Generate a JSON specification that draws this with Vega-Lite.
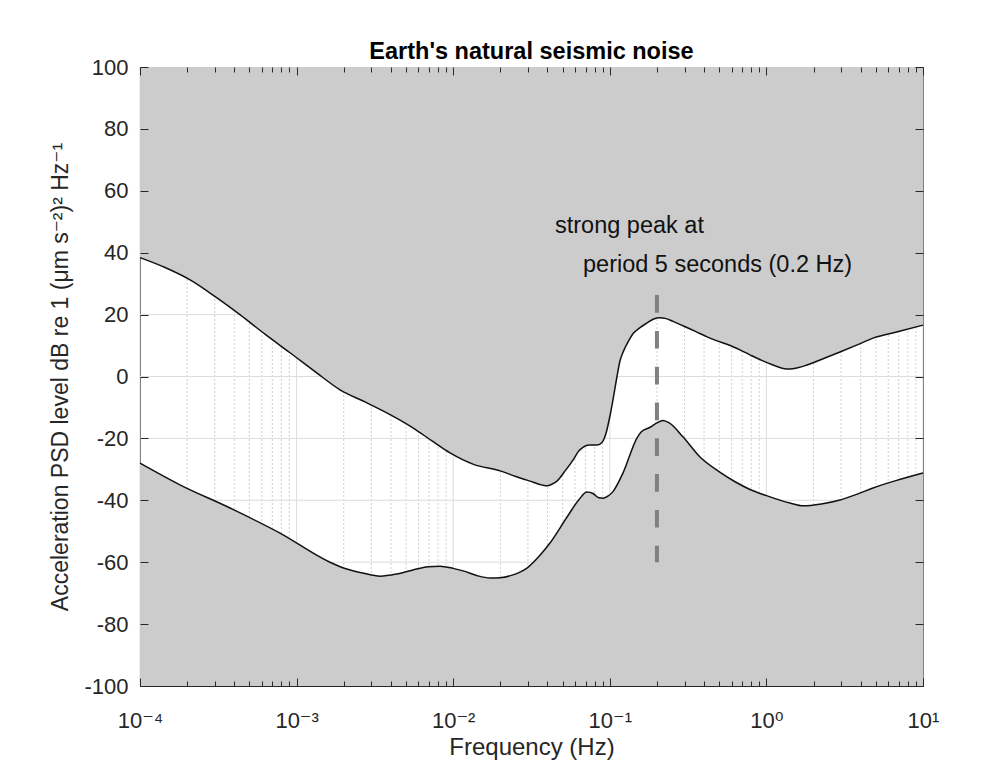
{
  "$schema": "https://vega.github.io/schema/vega-lite/v6.json",
  "autosize": {"type": "none"},
  "width": 783,
  "height": 619,
  "padding": {"left": 140, "top": 67, "right": 83, "bottom": 78},
  "background": "white",
  "title": {"text": "Earth's natural seismic noise", "fontSize": 23.5, "fontWeight": "bold", "font": "Liberation Sans", "color": "#000000", "offset": -7, "anchor": "middle"},
  "config": {
    "font": "Liberation Sans",
    "view": {"stroke": "#262626", "strokeWidth": 1},
    "axis": {"labelFont": "Liberation Sans, DejaVu Sans", "titleFont": "Liberation Sans, DejaVu Sans", "labelColor": "#262626", "titleColor": "#262626", "tickColor": "#262626", "tickWidth": 1, "domain": false, "grid": false, "zindex": 1, "labelOverlap": false, "labelFlush": false, "labelBound": false, "minExtent": 0}
  },
  "datasets": {
    "vgrid": [
      {"f": 0.0001, "kind": "major"}, {"f": 0.0002, "kind": "minor"}, {"f": 0.0003, "kind": "minor"}, {"f": 0.0004, "kind": "minor"}, {"f": 0.0005, "kind": "minor"}, {"f": 0.0006, "kind": "minor"}, {"f": 0.0007, "kind": "minor"}, {"f": 0.0008, "kind": "minor"}, {"f": 0.0009, "kind": "minor"},
      {"f": 0.001, "kind": "major"}, {"f": 0.002, "kind": "minor"}, {"f": 0.003, "kind": "minor"}, {"f": 0.004, "kind": "minor"}, {"f": 0.005, "kind": "minor"}, {"f": 0.006, "kind": "minor"}, {"f": 0.007, "kind": "minor"}, {"f": 0.008, "kind": "minor"}, {"f": 0.009, "kind": "minor"},
      {"f": 0.01, "kind": "major"}, {"f": 0.02, "kind": "minor"}, {"f": 0.03, "kind": "minor"}, {"f": 0.04, "kind": "minor"}, {"f": 0.05, "kind": "minor"}, {"f": 0.06, "kind": "minor"}, {"f": 0.07, "kind": "minor"}, {"f": 0.08, "kind": "minor"}, {"f": 0.09, "kind": "minor"},
      {"f": 0.1, "kind": "major"}, {"f": 0.2, "kind": "minor"}, {"f": 0.3, "kind": "minor"}, {"f": 0.4, "kind": "minor"}, {"f": 0.5, "kind": "minor"}, {"f": 0.6, "kind": "minor"}, {"f": 0.7, "kind": "minor"}, {"f": 0.8, "kind": "minor"}, {"f": 0.9, "kind": "minor"},
      {"f": 1, "kind": "major"}, {"f": 2, "kind": "minor"}, {"f": 3, "kind": "minor"}, {"f": 4, "kind": "minor"}, {"f": 5, "kind": "minor"}, {"f": 6, "kind": "minor"}, {"f": 7, "kind": "minor"}, {"f": 8, "kind": "minor"}, {"f": 9, "kind": "minor"},
      {"f": 10, "kind": "major"}
    ],
    "hgrid": [{"db": -80}, {"db": -60}, {"db": -40}, {"db": -20}, {"db": 0}, {"db": 20}, {"db": 40}, {"db": 60}, {"db": 80}],
    "upper": [
      {"f": 0.0001, "db": 38.4}, {"f": 0.00014454, "db": 35.2}, {"f": 0.00020893, "db": 31.2}, {"f": 0.000302, "db": 25.8}, {"f": 0.00043652, "db": 19.9}, {"f": 0.00063096, "db": 13.6}, {"f": 0.00091201, "db": 7.6}, {"f": 0.0013183, "db": 1.5}, {"f": 0.0019055, "db": -4.4}, {"f": 0.0027542, "db": -8.3}, {"f": 0.0039811, "db": -12.4}, {"f": 0.0054954, "db": -16.5}, {"f": 0.0074131, "db": -21}, {"f": 0.0095499, "db": -24.7}, {"f": 0.01349, "db": -28.4}, {"f": 0.019953, "db": -30.5}, {"f": 0.025119, "db": -32.3}, {"f": 0.030903, "db": -33.8}, {"f": 0.037154, "db": -35.1}, {"f": 0.039811, "db": -35.3}, {"f": 0.042658, "db": -34.8}, {"f": 0.046026, "db": -33.8}, {"f": 0.051286, "db": -30.8}, {"f": 0.05821, "db": -27.0}, {"f": 0.063096, "db": -24.2}, {"f": 0.067608, "db": -22.8}, {"f": 0.074131, "db": -22.1}, {"f": 0.083176, "db": -22.1}, {"f": 0.089125, "db": -21.3}, {"f": 0.094406, "db": -18.5}, {"f": 0.1, "db": -13}, {"f": 0.10471, "db": -7.6}, {"f": 0.11117, "db": 0}, {"f": 0.11614, "db": 5}, {"f": 0.12134, "db": 7.8}, {"f": 0.13183, "db": 11.5}, {"f": 0.1406, "db": 13.8}, {"f": 0.15596, "db": 15.8}, {"f": 0.17298, "db": 17.3}, {"f": 0.19055, "db": 18.6}, {"f": 0.20893, "db": 19}, {"f": 0.22909, "db": 18.7}, {"f": 0.25351, "db": 17.8}, {"f": 0.29309, "db": 16.4}, {"f": 0.35481, "db": 14.5}, {"f": 0.41783, "db": 12.8}, {"f": 0.48417, "db": 11.5}, {"f": 0.57544, "db": 10.2}, {"f": 0.67764, "db": 8.6}, {"f": 0.78524, "db": 7}, {"f": 0.93325, "db": 5.2}, {"f": 1.1015, "db": 3.7}, {"f": 1.2589, "db": 2.7}, {"f": 1.4158, "db": 2.4}, {"f": 1.5849, "db": 2.8}, {"f": 1.8155, "db": 3.7}, {"f": 2.3442, "db": 5.9}, {"f": 2.9512, "db": 7.9}, {"f": 3.8019, "db": 10.2}, {"f": 4.7973, "db": 12.4}, {"f": 7.0795, "db": 14.6}, {"f": 10, "db": 16.6}
    ],
    "lower": [
      {"f": 0.0001, "db": -28}, {"f": 0.00017989, "db": -35}, {"f": 0.00037584, "db": -42.5}, {"f": 0.00078343, "db": -50.6}, {"f": 0.0016331, "db": -60}, {"f": 0.0020893, "db": -62.2}, {"f": 0.0026546, "db": -63.5}, {"f": 0.0034119, "db": -64.5}, {"f": 0.0043652, "db": -63.8}, {"f": 0.0055335, "db": -62.5}, {"f": 0.0069183, "db": -61.5}, {"f": 0.0082414, "db": -61.3}, {"f": 0.01, "db": -62}, {"f": 0.011561, "db": -62.8}, {"f": 0.014125, "db": -64.3}, {"f": 0.017179, "db": -65.1}, {"f": 0.019907, "db": -65}, {"f": 0.024099, "db": -64.1}, {"f": 0.02958, "db": -61.9}, {"f": 0.035481, "db": -58}, {"f": 0.041495, "db": -53.8}, {"f": 0.053333, "db": -45.4}, {"f": 0.063096, "db": -40}, {"f": 0.07145, "db": -37.3}, {"f": 0.078163, "db": -37.8}, {"f": 0.085114, "db": -39.2}, {"f": 0.090573, "db": -39.3}, {"f": 0.097724, "db": -38.6}, {"f": 0.10471, "db": -37.2}, {"f": 0.12134, "db": -31.2}, {"f": 0.14928, "db": -19.8}, {"f": 0.15849, "db": -17.9}, {"f": 0.18072, "db": -16.4}, {"f": 0.19953, "db": -15}, {"f": 0.21878, "db": -14.2}, {"f": 0.23988, "db": -15}, {"f": 0.29309, "db": -19.5}, {"f": 0.3767, "db": -26}, {"f": 0.50119, "db": -30.8}, {"f": 0.63096, "db": -34}, {"f": 0.78524, "db": -36.5}, {"f": 1, "db": -38.5}, {"f": 1.4158, "db": -40.9}, {"f": 1.714, "db": -41.8}, {"f": 2.2387, "db": -41.2}, {"f": 2.9512, "db": -39.9}, {"f": 3.8019, "db": -38}, {"f": 4.7973, "db": -36}, {"f": 7.0795, "db": -33.3}, {"f": 10, "db": -31.2}
    ]
  },
  "layer": [
    {
      "data": {"name": "vgrid"},
      "transform": [{"filter": "datum.kind == 'minor'"}],
      "mark": {"type": "rule", "color": "#cfcfcf", "strokeWidth": 1, "strokeDash": [2, 2]},
      "encoding": {
        "x": {"field": "f", "type": "quantitative", "scale": {"type": "log", "domain": [0.0001, 10], "nice": false}, "axis": null}
      }
    },
    {
      "data": {"name": "vgrid"},
      "transform": [{"filter": "datum.kind == 'major'"}],
      "mark": {"type": "rule", "color": "#dcdcdc", "strokeWidth": 1},
      "encoding": {
        "x": {"field": "f", "type": "quantitative", "scale": {"type": "log", "domain": [0.0001, 10], "nice": false}, "axis": null}
      }
    },
    {
      "data": {"name": "hgrid"},
      "mark": {"type": "rule", "color": "#dcdcdc", "strokeWidth": 1},
      "encoding": {
        "y": {"field": "db", "type": "quantitative", "scale": {"domain": [-100, 100], "nice": false, "zero": false}, "axis": null}
      }
    },
    {
      "data": {"name": "upper"},
      "mark": {"type": "area", "color": "#cccccc", "opacity": 1, "interpolate": "monotone"},
      "encoding": {
        "x": {"field": "f", "type": "quantitative", "scale": {"type": "log", "domain": [0.0001, 10], "nice": false}, "axis": null},
        "y": {"field": "db", "type": "quantitative", "scale": {"domain": [-100, 100], "nice": false, "zero": false}, "axis": null},
        "y2": {"datum": 100}
      }
    },
    {
      "data": {"name": "lower"},
      "mark": {"type": "area", "color": "#cccccc", "opacity": 1, "interpolate": "monotone"},
      "encoding": {
        "x": {"field": "f", "type": "quantitative", "scale": {"type": "log", "domain": [0.0001, 10], "nice": false}, "axis": null},
        "y": {"field": "db", "type": "quantitative", "scale": {"domain": [-100, 100], "nice": false, "zero": false}, "axis": null},
        "y2": {"datum": -100}
      }
    },
    {
      "data": {"name": "upper"},
      "mark": {"type": "line", "color": "#111111", "strokeWidth": 1.5, "interpolate": "monotone"},
      "encoding": {
        "x": {"field": "f", "type": "quantitative", "scale": {"type": "log", "domain": [0.0001, 10], "nice": false},
          "axis": {
            "orient": "bottom",
            "zindex": 1,
            "values": [0.0001, 0.0002, 0.0003, 0.0004, 0.0005, 0.0006, 0.0007, 0.0008, 0.0009, 0.001, 0.002, 0.003, 0.004, 0.005, 0.006, 0.007, 0.008, 0.009, 0.01, 0.02, 0.03, 0.04, 0.05, 0.06, 0.07, 0.08, 0.09, 0.1, 0.2, 0.3, 0.4, 0.5, 0.6, 0.7, 0.8, 0.9, 1, 2, 3, 4, 5, 6, 7, 8, 9, 10],
            "labelExpr": "datum.value == 0.0001 ? '10⁻⁴' : datum.value == 0.001 ? '10⁻³' : datum.value == 0.01 ? '10⁻²' : datum.value == 0.1 ? '10⁻¹' : datum.value == 1 ? '10⁰' : datum.value == 10 ? '10¹' : ''",
            "tickSize": {"condition": {"test": "abs(log(datum.value)/LN10 - round(log(datum.value)/LN10)) < 0.001", "value": -8}, "value": -5},
            "labelPadding": 32,
            "labelFontSize": 22,
            "labelAngle": 0,
            "title": "Frequency (Hz)",
            "titleFontSize": 24,
            "titleFontWeight": "normal",
            "titlePadding": 1
          }
        },
        "y": {"field": "db", "type": "quantitative", "scale": {"domain": [-100, 100], "nice": false, "zero": false},
          "axis": {
            "orient": "left",
            "zindex": 1,
            "values": [-100, -80, -60, -40, -20, 0, 20, 40, 60, 80, 100],
            "labelExpr": "'' + datum.value",
            "tickSize": -8,
            "labelPadding": 20,
            "labelFontSize": 22,
            "title": "Acceleration PSD level dB re 1 (μm s⁻²)² Hz⁻¹",
            "titleFontSize": 23,
            "titleFontWeight": "normal",
            "titlePadding": 11
          }
        }
      }
    },
    {
      "data": {"name": "lower"},
      "mark": {"type": "line", "color": "#111111", "strokeWidth": 1.5, "interpolate": "monotone"},
      "encoding": {
        "x": {"field": "f", "type": "quantitative", "scale": {"type": "log", "domain": [0.0001, 10], "nice": false},
          "axis": {
            "orient": "top",
            "zindex": 1,
            "values": [0.0001, 0.0002, 0.0003, 0.0004, 0.0005, 0.0006, 0.0007, 0.0008, 0.0009, 0.001, 0.002, 0.003, 0.004, 0.005, 0.006, 0.007, 0.008, 0.009, 0.01, 0.02, 0.03, 0.04, 0.05, 0.06, 0.07, 0.08, 0.09, 0.1, 0.2, 0.3, 0.4, 0.5, 0.6, 0.7, 0.8, 0.9, 1, 2, 3, 4, 5, 6, 7, 8, 9, 10],
            "labels": false,
            "tickSize": {"condition": {"test": "abs(log(datum.value)/LN10 - round(log(datum.value)/LN10)) < 0.001", "value": -8}, "value": -5},
            "title": null,
            "minExtent": 0,
            "maxExtent": 0
          }
        },
        "y": {"field": "db", "type": "quantitative", "scale": {"domain": [-100, 100], "nice": false, "zero": false},
          "axis": {
            "orient": "right",
            "zindex": 1,
            "values": [-100, -80, -60, -40, -20, 0, 20, 40, 60, 80, 100],
            "labels": false,
            "tickSize": -8,
            "title": null
          }
        }
      }
    },
    {
      "data": {"values": [{"f": 0.2, "top": 26.3, "bottom": -60}]},
      "mark": {"type": "rule", "color": "#808080", "strokeWidth": 4, "strokeDash": [17.7, 18.1], "strokeCap": "butt"},
      "encoding": {
        "x": {"field": "f", "type": "quantitative", "scale": {"type": "log", "domain": [0.0001, 10], "nice": false}, "axis": null},
        "y": {"field": "top", "type": "quantitative", "scale": {"domain": [-100, 100], "nice": false, "zero": false}, "axis": null},
        "y2": {"field": "bottom"}
      }
    },
    {
      "data": {"values": [{"f": 0.04467, "db": 46.4, "label": "strong peak at"}, {"f": 0.06745, "db": 33.9, "label": "period 5 seconds (0.2 Hz)"}]},
      "mark": {"type": "text", "align": "left", "baseline": "alphabetic", "fontSize": 23.5, "font": "Liberation Sans", "color": "#111111"},
      "encoding": {
        "x": {"field": "f", "type": "quantitative", "scale": {"type": "log", "domain": [0.0001, 10], "nice": false}, "axis": null},
        "y": {"field": "db", "type": "quantitative", "scale": {"domain": [-100, 100], "nice": false, "zero": false}, "axis": null},
        "text": {"field": "label"}
      }
    }
  ],
  "resolve": {"axis": {"x": "independent", "y": "independent"}}
}
